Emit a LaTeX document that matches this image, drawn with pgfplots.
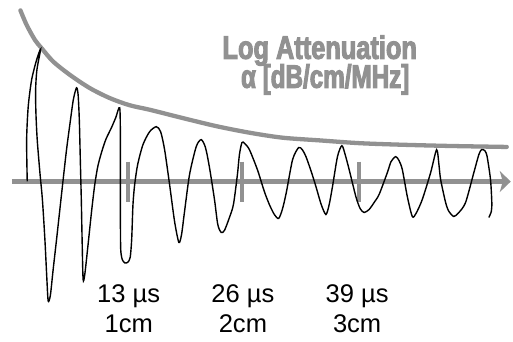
\documentclass[border=0pt]{standalone}
\usepackage{pgfplots}
\pgfplotsset{compat=1.18}
\usetikzlibrary{arrows.meta}
\usepackage{fontspec}
\setmainfont{Liberation Sans}
\newfontfamily\titlefont{Liberation Sans}[UprightFont={* Bold},FakeStretch=0.78,FakeBold=3]
\newfontfamily\titlefontb{Liberation Sans}[UprightFont={* Bold},FakeStretch=0.745,FakeBold=3]
\definecolor{lg}{RGB}{145,145,145}
\begin{document}
\begin{tikzpicture}
\begin{axis}[width=513bp,height=342bp,scale only axis,hide axis,
  xmin=0,xmax=513,ymin=0,ymax=342,y dir=reverse,clip=false]
\addplot[draw=none] coordinates {(0,0) (513,342)};
% envelope
\addplot[lg, line width=4.3bp, line cap=round, smooth] coordinates {
(20.5,10.5) (26.7,25) (35,40) (41.7,48.3) (53.3,61.7) (70,75) (90,88.3) (110,98.3)
(130,105.5) (150,110) (183,118.3) (217,126.5) (250,133) (283,138) (320,140.7)
(360,143.5) (400,145) (450,146.3) (508,147.3)};
% time axis
\addplot[lg, line width=4.5bp, -{Stealth[length=11bp,width=21bp,inset=3bp]}] coordinates {(12,182) (512,182)};
\addplot[lg, line width=4bp] coordinates {(128,162) (128,202)};
\addplot[lg, line width=4bp] coordinates {(243,162) (243,202)};
\addplot[lg, line width=4bp] coordinates {(360,162) (360,202)};
% waveform
\addplot[black, line width=1.4bp, smooth, tension=0.45] coordinates {
(27.3,181.7) (26.7,140) (28.3,106.7) (31.7,80) (36.7,60) (40.7,49.3)
(37,70) (35.7,90) (36,113) (37.3,140) (40,173) (42.5,200) (45,240) (47,280) (48.3,301.7)
(50.5,296) (53.3,270) (56.7,240) (60,210) (63.3,180) (66.7,150) (70,125) (73.5,100) (76.7,88)
(78.3,95) (79.5,120) (80.5,160) (81.5,200) (82.3,240) (83.3,280)
(85,275) (88.3,245) (92,210) (95,185) (98,167) (101.7,153) (106,140) (111.7,128) (116,118) (120,108)
(120.7,140) (120.7,180) (120.7,220) (121,250) (122.5,260) (125,263.5) (128,263) (130.5,258)
(132,240) (133.3,205) (135,185) (138,165) (143.3,145) (150,132) (156.7,127)
(161,132) (165,150) (170,185) (175,222) (179.3,243)
(182,235) (185,212) (190,175) (196.7,147) (201.7,140)
(206,148) (210,168) (215,200) (218.3,225) (221.7,233)
(225,231) (230,218) (234,205) (238,175) (240,155) (242.5,143)
(245,143.5) (250,150) (258,170) (265,192) (270,205) (275,215) (279.3,219)
(283,210) (287,193) (293.3,160) (299.3,148)
(303,150) (306.7,157) (312,172) (316.7,187) (322,205) (326.7,215)
(330,205) (333.3,187) (338.3,157) (342.7,146)
(346,155) (350,170) (356.7,197) (361,209) (365,213)
(370,210) (375,203) (380,195) (388.3,173) (392,162) (396.7,157)
(400,161) (403.3,170) (408.3,197) (413.3,217)
(417,214) (423.3,200) (431.7,173) (437.7,150)
(440,165) (441.7,180) (446.7,203) (450,212) (455,217)
(460,213) (466.7,203) (475,173) (480,155) (482.7,150)
(486,151) (488.3,157) (491.7,180) (493,203) (492.5,212) (490,218)};
% title
\node[anchor=base, text=lg, font=\titlefont\fontsize{32.6bp}{34bp}\selectfont, inner sep=0pt]
  at (axis cs:320.5,59) {Log Attenuation};
\node[anchor=base, text=lg, font=\titlefontb\fontsize{32.6bp}{34bp}\selectfont, inner sep=0pt]
  at (axis cs:326,88) {α [dB/cm/MHz]};
% labels
\node[anchor=base, font=\fontsize{25.6bp}{27bp}\selectfont, inner sep=0pt] at (axis cs:129,303) {13 µs};
\node[anchor=base, font=\fontsize{25.6bp}{27bp}\selectfont, inner sep=0pt] at (axis cs:129,333) {1cm};
\node[anchor=base, font=\fontsize{25.6bp}{27bp}\selectfont, inner sep=0pt] at (axis cs:243.5,303) {26 µs};
\node[anchor=base, font=\fontsize{25.6bp}{27bp}\selectfont, inner sep=0pt] at (axis cs:243.5,333) {2cm};
\node[anchor=base, font=\fontsize{25.6bp}{27bp}\selectfont, inner sep=0pt] at (axis cs:358,303) {39 µs};
\node[anchor=base, font=\fontsize{25.6bp}{27bp}\selectfont, inner sep=0pt] at (axis cs:358,333) {3cm};
\end{axis}
\end{tikzpicture}
\end{document}
